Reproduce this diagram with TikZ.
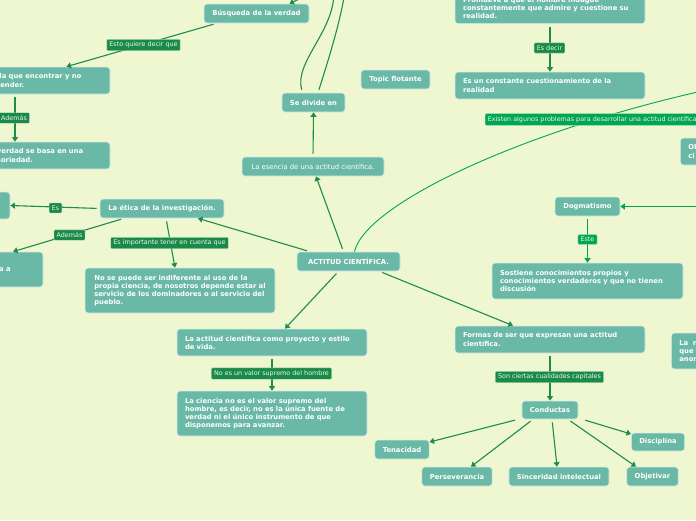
\documentclass[tikz,border=0pt]{standalone}
\usepackage{fontspec}
\setmainfont{DejaVu Sans}
\usetikzlibrary{arrows.meta}
\definecolor{bg}{HTML}{EFF7D1}
\definecolor{topicfill}{HTML}{6AB8A6}
\definecolor{lnk}{HTML}{1F8B4C}
\definecolor{lbl}{HTML}{1A8A48}
\definecolor{lblb}{HTML}{00A651}
\tikzset{
  topic/.style={draw=white!75!topicfill, line width=0.7pt, fill=topicfill, rounded corners=3pt,
    text=white, font=\fontsize{6.8}{8.2}\selectfont\bfseries, inner xsep=8pt, inner ysep=3pt, align=left},
  topicr/.style={topic, font=\fontsize{6.8}{8.2}\selectfont},
  lab/.style={fill=lbl, draw=white!60!lbl, line width=0.4pt, text=white!92!lbl,
    font=\fontsize{6.4}{7}\selectfont, inner xsep=2.6pt, inner ysep=2.6pt, rounded corners=1pt},
  labb/.style={lab, fill=lblb, draw=white!60!lblb},
  link/.style={draw=lnk, line width=1.1pt, shorten <=3pt, -{Triangle[width=6pt,length=4.5pt]}},
  linkn/.style={draw=lnk, line width=1.1pt, shorten <=3pt},
  linkb/.style={draw=lblb, line width=1.1pt, -{Triangle[width=6pt,length=4.5pt]}},
}
\begin{document}
\begin{tikzpicture}[x=1pt,y=1pt]
\useasboundingbox (0,0) rectangle (696,-520);
\fill[bg] (0,0) rectangle (696,-520);
\clip (0,0) rectangle (696,-520);

% ---------- nodes ----------
\node[topic, minimum width=105pt, minimum height=19pt] (busq) at (256.5,-13.5) {Búsqueda de la verdad};
\node[topic, text width=105pt, minimum height=27pt] (left1) at (49.5,-80.5) {da que encontrar y no\\render.};
\node[topic, text width=105pt, minimum height=27pt] (left2) at (49.5,-155.5) {verdad se basa en una\\soriedad.};
\node[topic, minimum width=63pt, minimum height=19pt] (sedivide) at (313.5,-102.5) {Se divide en};
\node[topicr, minimum width=142pt, minimum height=19pt] (esencia) at (313,-166.5) {La esencia de una actitud científica.};
\node[topic, minimum width=69pt, minimum height=19pt] (topicf) at (395.5,-79.5) {Topic flotante};
\node[topic, anchor=south, text width=174pt, inner ysep=5pt] (topbox) at (550,-24) {Promueve a que el hombre indague\\constantemente que admire y cuestione su\\realidad.};
\node[topic, text width=174pt, minimum height=27pt] (escons) at (550,-85.5) {Es un constante cuestionamiento de la\\realidad};
\node[topic, text width=84pt, minimum height=27pt, anchor=west] (obst) at (680,-151.5) {Ob\\ci};
\node[topic, minimum width=65pt, minimum height=19pt] (dogma) at (587.5,-206.5) {Dogmatismo};
\node[topic, text width=175pt, minimum height=36pt] (sost) at (587.5,-281) {Sostiene conocimientos propios y\\conocimientos verdaderos y que no tienen\\discusión};
\node[topic, minimum width=103pt, minimum height=19pt] (actitud) at (348.5,-261.5) {ACTITUD CIENTÍFICA.};
\node[topic, minimum width=124pt, minimum height=19pt] (etica) at (162,-208.5) {La ética de la investigación.};
\node[topic, minimum width=60pt, minimum height=27pt] (leftes) at (-20,-205.5) {};
\node[topic, minimum width=103pt, minimum height=35pt] (lefta) at (-8.5,-269.5) {};
\node[font=\fontsize{6.8}{8.2}\selectfont\bfseries, text=white, anchor=west, inner sep=0pt] (leftatxt) at (-1,-270) {a a};
\node[topic, minimum width=190pt, minimum height=45pt] (nose) at (180,-290.5) {No se puede ser indiferente al uso de la\\propia ciencia, de nosotros depende estar al\\servicio de los dominadores o al servicio del\\pueblo.};
\node[topic, text width=174pt, minimum height=27pt] (lact) at (272,-342.5) {La actitud científica como proyecto y estilo\\de vida.};
\node[topic, text width=174pt, minimum height=45pt] (lacien) at (272,-413.5) {La ciencia no es el valor supremo del\\hombre, es decir, no es la única fuente de\\verdad ni el único instrumento de que\\disponemos para avanzar.};
\node[topic, text width=174pt, minimum height=27pt] (formas) at (550,-339.5) {Formas de ser que expresan una actitud\\científica.};
\node[topic, minimum width=56pt, minimum height=18pt] (conductas) at (550,-410) {Conductas};
\node[topic, minimum width=54pt, minimum height=19pt] (tenac) at (402,-449.5) {Tenacidad};
\node[topic, minimum width=70pt, minimum height=19pt] (persev) at (457,-476.5) {Perseverancia};
\node[topic, minimum width=100pt, minimum height=19pt] (sinc) at (559,-476.5) {Sinceridad intelectual};
\node[topic, minimum width=51pt, minimum height=19pt] (objet) at (652.5,-476.5) {Objetivar};
\node[topic, minimum width=52pt, minimum height=18pt] (disc) at (658,-442) {Disciplina};
\node[topic, text width=84pt, minimum height=36pt, anchor=west] (rightla) at (671,-351) {La\ \ n\\que\\anor};

\coordinate (busqin) at (310,6);
\coordinate (upA) at (334,8);
\coordinate (upB) at (345,8);
\coordinate (obstin) at (720,-87);
\coordinate (dogin) at (700,-206.5);

% ---------- connectors ----------
\draw[linkn] ([xshift=-11pt]sedivide.north) .. controls (294,-62) and (334,-32) .. (upA);
\draw[linkn] ([xshift=4.5pt]sedivide.north) .. controls (330,-55) and (340,-22) .. (upB);
\draw[link, shorten <=0pt] (busqin) -- ([xshift=33pt]busq.north);
\draw[link] ([xshift=-40pt]busq.south) -- ([xshift=17pt]left1.north);
\draw[link] ([xshift=-34.5pt]left1.south) -- ([xshift=-34.5pt]left2.north);
\draw[link] (esencia.north) -- (sedivide.south);
\draw[link] (topbox.south) -- (escons.north);
\draw[draw=lblb, line width=0.9pt] ([xshift=6pt]actitud.north) .. controls (365,-205) and (520,-130) .. (obstin);
\draw[linkb] (dogin) -- (dogma.east);
\draw[link, draw=lblb] (dogma.south) -- (sost.north);
\draw[link] ([xshift=-38.5pt]actitud.north) -- ([xshift=36pt]etica.south);
\draw[link] ([xshift=-5pt]actitud.north) -- ([xshift=3pt]esencia.south);
\draw[link] (etica.west) -- (leftes.east);
\draw[link] ([xshift=-38pt]etica.south) -- ([xshift=21.5pt]lefta.north);
\draw[link] ([xshift=4pt]etica.south) -- ([xshift=-5pt]nose.north);
\draw[link] ([xshift=-10pt]actitud.south) -- ([xshift=13pt]lact.north);
\draw[link] ([xshift=31pt]actitud.south) -- ([xshift=-37pt]formas.north);
\draw[link] (lact.south) -- (lacien.north);
\draw[link] (formas.south) -- (conductas.north);
\draw[link] ([xshift=-32pt]conductas.south) -- ([yshift=7.5pt]tenac.east);
\draw[link] ([xshift=-17pt]conductas.south) -- ([xshift=14pt]persev.north);
\draw[link] ([xshift=2pt]conductas.south) -- ([xshift=-2pt]sinc.north);
\draw[link] ([xshift=18pt]conductas.south) -- ([xshift=-16.5pt]objet.north);
\draw[link] ([xshift=4pt]conductas.south east) -- ([yshift=8pt]disc.west);

% ---------- labels ----------
\node[lab] (l1) at (143.5,-45) {Esto quiere decir que};
\node[lab] (l2) at (14,-118) {Además};
\node[lab] (l3) at (549.5,-48) {Es decir};
\node[labb, anchor=west] (l4) at (485,-119.5) {Existen algunos problemas para desarrollar una actitud científica};
\node[labb] (l5) at (587.5,-239.5) {Este};
\node[lab] (l6) at (55.5,-208) {Es};
\node[lab] (l7) at (69.5,-235) {Además};
\node[lab] (l8) at (169.5,-243) {Es importante tener en cuenta que};
\node[lab] (l9) at (271.5,-373.5) {No es un valor supremo del hombre};
\node[lab] (l10) at (549.5,-377) {Son ciertas cualidades capitales};
\end{tikzpicture}
\end{document}
